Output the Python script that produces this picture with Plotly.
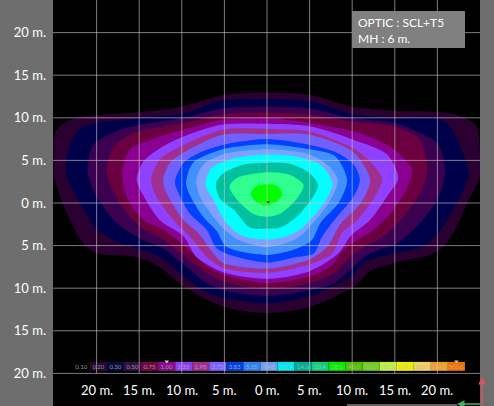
import plotly.graph_objects as go

W, H = 494, 406
LEFT, RIGHT = 53, 480

Y_TICKS = [20, 15, 10, 5, 0, -5, -10, -15, -20]
Y_TEXT = ["20 m.", "15 m.", "10 m.", "5 m.", "0 m.", "5 m.", "10 m.", "15 m.", "20 m."]
X_TICKS = [-20, -15, -10, -5, 0, 5, 10, 15, 20]
X_TEXT = ["20 m.", "15 m.", "10 m.", "5 m.", "0 m.", "5 m.", "10 m.", "15 m.", "20 m."]

SCALE_LABELS = ["0.10", "0.20", "0.30", "0.50", "0.75", "1.00", "1.35", "1.95", "2.73", "3.83", "5.35", "7.48",
                "10.4", "14.6", "20.4", "28.6", "40.0", "56.0", "78.3", "109.0", "153.0", "214.0", "300.0"]
SCALE_COLORS = ["#050505", "#25082c", "#0a0a3c", "#331040", "#6e0a40", "#8a0a8a", "#8a40f0", "#a03090", "#8060ff",
                "#0040e0", "#3080ee", "#70a0f0", "#00e8f0", "#00b090", "#10d080", "#00f000", "#50c000", "#70cc20",
                "#c0f040", "#f0f000", "#f0d060", "#f0a020", "#f07000"]
SCALE_X = [-21.77, -19.77, -17.77, -15.77, -13.77, -11.77, -9.77, -7.77, -5.77, -3.77, -1.77, 0.23,
           2.23, 4.23, 6.23, 8.23, 10.23, 12.23, 14.23, 16.23, 18.23, 20.23, 22.23]

C020_X = [-25, -25, -24.8, -23.5, -21, -15.7, -10, -5, 0, 5, 10, 15, 20, 22.7, 24.6, 25, 25, 23.5, 22.3, 20.7, 18.8, 14.9, 12.1, 10.2, 5, 0, -5, -9.8, -12.2, -15, -20, -21.6, -23.5]
C020_Y = [3.1, 6, 8.4, 9.6, 10.2, 10.6, 11.3, 12.7, 13, 12.7, 11.3, 10.8, 10.7, 10.2, 9, 6, 3.1, 0, -2.7, -5.1, -6.2, -7, -8, -9.8, -12.2, -12.9, -12.2, -9.8, -7.8, -6.4, -5.9, -4.7, -1.2]
C030_X = [-23.5, -23.5, -22.7, -21.6, -20, -14.9, -9.8, -5.2, 0, 5, 9.8, 14.9, 20, 21.5, 22.7, 23.7, 22.3, 20.4, 18.4, 14.9, 11.4, 9.8, 5.1, 0, -5.2, -7.1, -9.8, -12.2, -15, -17.3, -20, -22]
C030_Y = [3.1, 5.5, 7.8, 9, 9.4, 10, 10.5, 12.1, 12.2, 12, 10.5, 10, 10, 9, 6.6, 3.5, 0, -3.1, -5.1, -5.9, -7, -8.6, -10.9, -11.8, -11.1, -10.5, -8.6, -6.6, -5.4, -4.7, -3.1, 0]
C050_X = [-21, -20.4, -17.7, -14.9, -9.8, -5.2, 0, 5, 9.8, 14.9, 17.6, 20, 20.9, 20, 18, 15.3, 12.1, 10.2, 7.9, 5.1, 0, -5.2, -7.1, -9.8, -12.2, -15, -17.7, -20]
C050_Y = [3.5, 6.8, 8.4, 9.2, 10, 11.1, 11.3, 11.1, 10, 9.4, 8.4, 7, 3.9, 0.4, -2.3, -4.7, -5.9, -7.4, -9.4, -10.2, -10.9, -10.2, -9.4, -7.2, -5.3, -4.1, -2.3, 0.8]
C075_X = [-18.8, -18, -15.7, -9.8, -5.2, 0, 5, 9.8, 14.9, 18, 18.8, 18, 16, 13.7, 11.4, 9.8, 7.9, 5.1, 0, -5.2, -7.1, -9.8, -12.2, -15, -17.3]
C075_Y = [3.5, 6.6, 8.2, 9.4, 10.4, 10.6, 10.4, 9.6, 9, 7.4, 3.9, 1.2, -1.6, -3.9, -5.1, -6.3, -8.2, -9.4, -10.1, -9.2, -8.2, -6.1, -4.3, -2.7, 0]
C100_X = [-17, -16.1, -13.8, -9.8, -5.2, 0, 5, 11, 14.9, 17, 16.4, 14.5, 12.6, 10.6, 9, 7.5, 5.1, 0, -5.2, -7.1, -9.8, -12.2, -14.5, -16.5]
C100_Y = [3.5, 6.3, 7.4, 8.6, 9.8, 10, 9.4, 8.2, 6.3, 3.9, 1.6, -1.2, -3.1, -4.3, -5.5, -7.4, -8.6, -9.4, -8.4, -7.4, -4.9, -3.1, -2, 0.8]
C135_X = [-15.3, -14.5, -12.6, -9.8, -5.2, 0, 5, 10.2, 14.1, 15.4, 14.1, 12.1, 9.8, 8.4, 5, 0, -5.2, -8.3, -9.8, -12.6, -14.9]
C135_Y = [2.8, 4.9, 6.4, 7.8, 9.2, 9.3, 9, 7.4, 5.7, 2.9, 0.8, -2, -3.9, -5.9, -8, -8.9, -8.1, -6.3, -3.9, -2, 1.6]
C195_X = [-13.6, -12.6, -9.8, -5.2, 0, 5, 10.2, 12.1, 13.5, 12.7, 10.6, 8.8, 7.7, 5, 0, -5.2, -7.1, -9.1, -11, -13]
C195_Y = [2.7, 5.1, 6.8, 8.6, 8.7, 8.4, 6.4, 4.9, 2.9, 0.8, -2, -3.5, -5.9, -7.2, -8.2, -7.6, -6.3, -3.9, -2, 0.8]
C273_X = [-12.2, -11.4, -9.8, -5.2, 0, 5, 10.2, 12.1, 11, 8.6, 7.1, 5, 0, -5.2, -6.3, -8.1, -9.8, -11.8]
C273_Y = [2.7, 4.7, 5.9, 8, 8.1, 8, 5.9, 2.7, 0, -2.5, -5.1, -6.6, -7.7, -7, -5.9, -3.5, -2, 1.2]
C383_X = [-10.8, -9.8, -7.9, -5.2, 0, 5, 8.2, 10.2, 10.9, 10.2, 7.9, 6.5, 5.5, 3.2, 0, -4, -5.9, -7.1, -9.1, -10.4]
C383_Y = [2.5, 4.7, 5.9, 6.8, 7.5, 6.8, 5.9, 4.5, 2.7, 0.8, -2, -3.9, -5.9, -6.4, -7, -6.2, -5.3, -3.1, -1.2, 1.2]
C535_X = [-9.5, -8.7, -5.2, 0, 5, 8, 9.4, 8.4, 6.3, 5.3, 3.6, 0, -4.8, -5.9, -7.5, -9]
C535_Y = [2.3, 4.7, 6.3, 6.9, 6.3, 5.5, 2.7, 0, -2.3, -4.3, -5.3, -6.1, -5.1, -3.3, -1.6, 0.8]
C748_X = [-8.3, -7.5, -5.2, 0, 5, 7.3, 8.3, 7.5, 5.1, 3.6, 0, -3.4, -4.8, -6.3, -7.9]
C748_Y = [2.7, 4.5, 5.7, 6.3, 5.7, 4.3, 2.7, 0.4, -2.7, -4.1, -5.2, -4.3, -3.3, -1.6, 0.8]
C104_X = [-7.2, -6.5, -3.6, 0, 3.2, 6.3, 7.7, 6.7, 3.9, 1.6, 0, -2.8, -4.8, -6.3]
C104_Y = [2.1, 4.1, 5.3, 5.7, 5.5, 4.5, 2.3, 0, -3.1, -4.1, -4.3, -3.9, -2.3, 0.4]
C146_X = [-6, -5.1, -2.8, 0, 2.7, 5, 6, 5.4, 3.5, 1.5, 0, -2, -3.9, -5.5]
C146_Y = [2.3, 3.5, 4.5, 4.7, 4.6, 3.5, 2.1, 0.7, -1.6, -2.9, -3, -2.9, -0.8, 0.5]
C204_X = [-4.4, -3.6, 0, 2.7, 4.3, 3.5, 1.5, 0, -1.6, -3.6]
C204_Y = [1.9, 2.9, 3.6, 3.3, 2.1, 0.5, -1.3, -1.6, -1.3, 0.5]
C286_X = [-1.9, -1.2, 0, 1.2, 1.8, 1.2, 0, -1.2]
C286_Y = [1.1, 2, 2.2, 2, 1.1, 0.2, -0.3, 0.1]

CONTOURS = [
    (C020_X, C020_Y, "#2a0030"), (C030_X, C030_Y, "#00004a"), (C050_X, C050_Y, "#3c0050"),
    (C075_X, C075_Y, "#6a0040"), (C100_X, C100_Y, "#8a0090"), (C135_X, C135_Y, "#9040ff"),
    (C195_X, C195_Y, "#a03090"), (C273_X, C273_Y, "#7060ff"), (C383_X, C383_Y, "#0040ff"),
    (C535_X, C535_Y, "#4090ff"), (C748_X, C748_Y, "#80a0ff"), (C104_X, C104_Y, "#00ffff"),
    (C146_X, C146_Y, "#00c0a0"), (C204_X, C204_Y, "#30ff90"), (C286_X, C286_Y, "#00ff00"),
]

PX = 8.52
XR = [(LEFT - 267) / PX, (RIGHT - 267) / PX]
YR = [-203 / PX, 203 / PX]


def px(v):
    return (v - LEFT) / (RIGHT - LEFT)


def py(v):
    return 1 - v / H


fig = go.Figure()
for xs, ys, col in CONTOURS:
    fig.add_trace(go.Scatter(x=xs + xs[:1], y=ys + ys[:1], mode="lines", fill="toself", fillcolor=col,
                             line=dict(width=0, shape="spline", smoothing=0.8, color=col), hoverinfo="skip"))

fig.add_trace(go.Bar(x=SCALE_X, y=[1.05] * len(SCALE_X), base=-19.7, width=2.0, marker=dict(color=SCALE_COLORS, line_width=0),
                     text=SCALE_LABELS, textposition="inside", insidetextanchor="middle", textangle=0,
                     constraintext="none", cliponaxis=False,
                     textfont=dict(size=6, color="rgba(190,190,200,0.75)", family="Lato")))

fig.add_trace(go.Scatter(x=[0.12], y=[0.1], mode="markers", marker=dict(color="black", size=3, symbol="diamond-wide"), hoverinfo="skip"))
fig.add_trace(go.Scatter(x=[-11.77, 22.23], y=[-18.6, -18.6], mode="markers",
                         marker=dict(color="#c8c8c8", size=4, symbol="triangle-down"), hoverinfo="skip"))

grid = dict(mode="lines", line=dict(color="rgba(200,200,200,0.62)", width=1), hoverinfo="skip")
for t in X_TICKS:
    fig.add_trace(go.Scatter(x=[t, t], y=[-20, YR[1]], **grid))

fig.update_layout(
    width=W, height=H, margin=dict(l=LEFT, r=W - RIGHT, t=0, b=0, autoexpand=False),
    paper_bgcolor="#6e6e6e", plot_bgcolor="black", showlegend=False, barmode="overlay",
    font=dict(family="Lato", color="white", size=13),
    xaxis=dict(range=XR, showgrid=False, zeroline=False, showticklabels=False, ticks="", fixedrange=True),
    yaxis=dict(range=YR, tickmode="array", tickvals=Y_TICKS, ticktext=Y_TEXT, showgrid=False,
               zeroline=False, ticks="",
               tickfont=dict(size=13, color="white", family="Lato"), ticklabelstandoff=6, fixedrange=True),
)
for t in Y_TICKS:
    fig.add_trace(go.Scatter(x=XR, y=[t, t], **grid))

for t, s in zip(X_TICKS, X_TEXT):
    fig.add_annotation(x=t, y=-21.9, text=s, showarrow=False, font=dict(size=13, color="white", family="Lato"))

# info box
fig.add_shape(type="rect", xref="paper", yref="paper", x0=px(352), x1=px(465), y0=py(48), y1=py(11),
              fillcolor="#808080", line_width=0, layer="above")
for text, top in [("OPTIC : SCL+T5", 22), ("MH : 6 m.", 38)]:
    fig.add_annotation(xref="paper", yref="paper", x=px(356), y=py(top), xanchor="left", yanchor="middle", text=text,
                       showarrow=False, font=dict(size=12, color="white", family="Lato"))

# corner axis arrows
fig.add_annotation(xref="paper", yref="paper", x=px(482), y=py(377), ax=0, ay=30, showarrow=True,
                   arrowhead=2, arrowsize=1, arrowwidth=1.5, arrowcolor="#e05060", text="")
fig.add_annotation(xref="paper", yref="paper", x=px(457), y=py(404), ax=25, ay=0, showarrow=True,
                   arrowhead=2, arrowsize=1, arrowwidth=1.5, arrowcolor="#40b060", text="")
fig.add_shape(type="line", xref="paper", yref="paper", x0=px(347), x1=px(457), y0=py(405), y1=py(405),
              line=dict(color="#c0c0c0", width=1))

fig.write_html("out.html", config={"displayModeBar": False},
               post_script="document.body.style.margin='0';document.body.style.background='#6e6e6e';document.body.style.overflow='hidden';")
